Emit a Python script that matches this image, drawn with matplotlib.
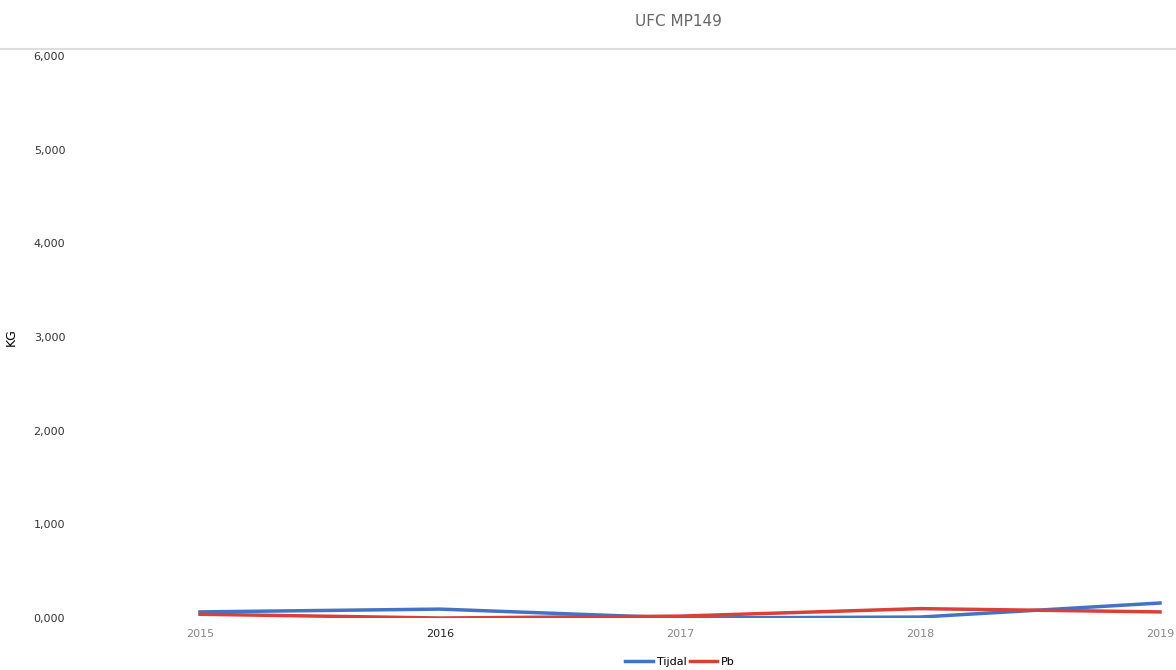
import matplotlib.pyplot as plt
from matplotlib.ticker import FuncFormatter

# data
years = [2015, 2016, 2017, 2018, 2019]
tijdal = [0.065, 0.095, 0.0, 0.01, 0.16]
pb = [0.04, 0.0, 0.02, 0.10, 0.065]
y_ticks = [0, 1, 2, 3, 4, 5, 6]

fig = plt.figure(figsize=(11.76, 6.70), dpi=100)
ax = fig.add_axes([68 / 1176, 1 - 618 / 670, 1 - 68 / 1176, (618 - 56) / 670])

ax.plot(years, tijdal, color='#4472c4', linewidth=2.5, label='Tijdal')
ax.plot(years, pb, color='#d9403a', linewidth=2.5, label='Pb')

ax.set_xlim(2015 - 132 / 240, 2019 + 16 / 240)
ax.set_ylim(0, 6)
ax.set_yticks(y_ticks)
ax.yaxis.set_major_formatter(FuncFormatter(lambda v, p: f'{v:.3f}'.replace('.', ',')))
ax.set_xticks(years)
ax.set_xticklabels([str(y) for y in years])
ax.tick_params(axis='y', length=0, labelsize=8, colors='#333333', pad=2)
ax.tick_params(axis='x', length=0, labelsize=8, colors='#888888', pad=8)
ax.get_xticklabels()[1].set_color('#222222')
for s in ax.spines.values():
    s.set_visible(False)

ax.set_ylabel('KG', fontsize=9, labelpad=14)
ax.yaxis.set_label_coords(-0.045, 0.5)

# title and header line
fig.text(678 / 1176, 1 - 22 / 670, 'UFC MP149', ha='center', va='center', fontsize=11, color='#666666')
fig.add_artist(plt.Line2D([0, 1], [1 - 49 / 670, 1 - 49 / 670], color='#dddddd', linewidth=1.5))

fig.legend(loc='center', bbox_to_anchor=(680 / 1176, 1 - 662 / 670), ncol=2, frameon=False,
           fontsize=8, handlelength=2.5, columnspacing=0.3, handletextpad=0.3)

plt.savefig('out.png', dpi=100)
